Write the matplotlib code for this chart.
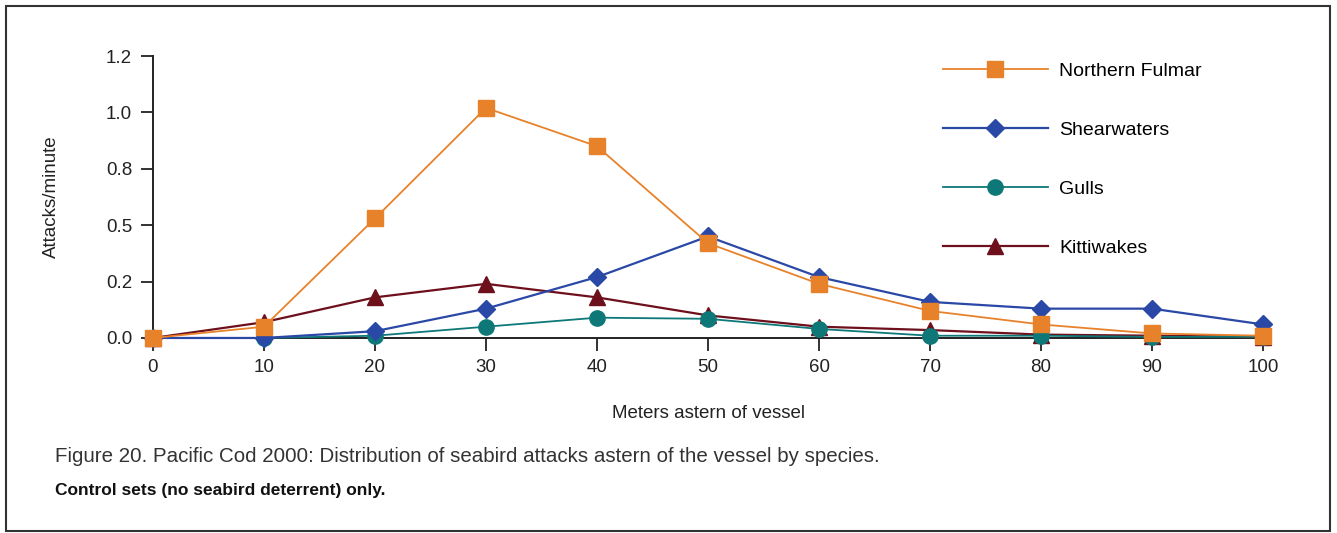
import numpy as np
import matplotlib.pyplot as plt
from matplotlib.patches import Rectangle

# meters astern of vessel
meters = [0, 10, 20, 30, 40, 50, 60, 70, 80, 90, 100]

# attacks/minute (axis is 0 .. 1.25)
fulmar = [0.0, 0.05, 0.53, 1.02, 0.85, 0.42, 0.24, 0.12, 0.06, 0.02, 0.01]
shearwaters = [0.0, 0.0, 0.03, 0.13, 0.27, 0.45, 0.27, 0.16, 0.13, 0.13, 0.06]
gulls = [0.0, 0.0, 0.01, 0.05, 0.09, 0.085, 0.04, 0.01, 0.01, 0.005, 0.005]
kittiwakes = [0.0, 0.07, 0.18, 0.24, 0.18, 0.10, 0.05, 0.035, 0.015, 0.01, 0.005]

names = ["Northern Fulmar", "Shearwaters", "Gulls", "Kittiwakes"]
ytick_vals = [0, 0.25, 0.5, 0.75, 1.0, 1.25]
ytick_labels = ["0.0", "0.2", "0.5", "0.8", "1.0", "1.2"]

plt.rcParams['font.family'] = ['Liberation Sans', 'DejaVu Sans']

fig = plt.figure(figsize=(13.37, 5.33), dpi=100)
ax = fig.add_axes([0.1144, 0.3659, 0.8303, 0.529])

ax.plot(meters, fulmar, color='#e8822a', marker='s', markersize=12, lw=1.3,
        label=names[0], zorder=6, clip_on=False)
ax.plot(meters, shearwaters, color='#2a48a6', marker='D', markersize=9, lw=1.6,
        label=names[1], zorder=5, clip_on=False)
ax.plot(meters, gulls, color='#0e7878', marker='o', markersize=11, lw=1.3,
        label=names[2], zorder=4, clip_on=False)
ax.plot(meters, kittiwakes, color='#6e0f1c', marker='^', markersize=11, lw=1.6,
        label=names[3], zorder=3, clip_on=False)

ax.set_xlim(0, 100)
ax.set_ylim(0, 1.25)
ax.set_xticks(meters)
ax.set_yticks(ytick_vals)
ax.set_yticklabels(ytick_labels)
ax.tick_params(direction='out', length=9, width=1.3, labelsize=13.5, pad=6,
               colors='#222222')
for s in ['top', 'right']:
    ax.spines[s].set_visible(False)
for s in ['left', 'bottom']:
    ax.spines[s].set_linewidth(1.4)
    ax.spines[s].set_color('#222222')

ax.set_ylabel("Attacks/minute", fontsize=13.5, labelpad=33, color='#222222')
ax.set_xlabel("Meters astern of vessel", fontsize=13.5, labelpad=21, color='#222222')

ax.legend(loc='upper left', bbox_to_anchor=(925 / 1337, 1 - 45 / 533),
          bbox_transform=fig.transFigure, frameon=False, fontsize=14,
          handlelength=5.4, handletextpad=0.6, labelspacing=2.12)

fig.text(55 / 1337, 1 - 456 / 533,
         "Figure 20. Pacific Cod 2000: Distribution of seabird attacks astern of the vessel by species.",
         fontsize=14.8, color='#333333', va='center')
fig.text(55 / 1337, 1 - 490 / 533,
         "Control sets (no seabird deterrent) only.",
         fontsize=12.5, fontweight='bold', color='#111111', va='center')

fig.patches.append(Rectangle((6 / 1337, 2 / 533), 1324 / 1337, 525 / 533,
                             transform=fig.transFigure, fill=False,
                             edgecolor='#333333', lw=1.5))

fig.savefig("out.png", dpi=100)
